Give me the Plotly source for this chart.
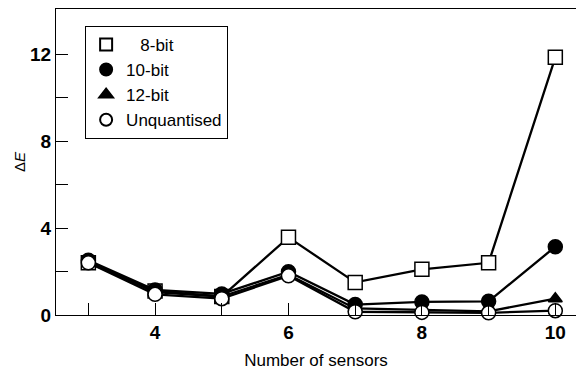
import plotly.graph_objects as go

sensors = [3, 4, 5, 6, 7, 8, 9, 10]
bit8 = [2.4, 1.1, 0.85, 3.57, 1.5, 2.1, 2.4, 11.85]
bit10 = [2.52, 1.15, 0.97, 1.99, 0.48, 0.6, 0.63, 3.14]
bit12 = [2.45, 1.05, 0.85, 1.85, 0.3, 0.22, 0.17, 0.75]
unquant = [2.4, 0.95, 0.75, 1.8, 0.15, 0.12, 0.1, 0.2]

x_tickvals = [3, 4, 5, 6, 7, 8, 9, 10]
x_ticktext = ["", "4", "", "6", "", "8", "", "10"]
y_tickvals = [0, 2, 4, 6, 8, 10, 12]
y_ticktext = ["0", "", "4", "", "8", "", "12"]

FONT = "Liberation Sans, Arial, sans-serif"

series = [
    ("\u2007 8-bit", bit8, dict(symbol="square", color="white", size=14, line=dict(color="black", width=1.5))),
    ("10-bit", bit10, dict(symbol="circle", color="black", size=14, line=dict(color="black", width=1.5))),
    ("12-bit", bit12, dict(symbol="triangle-up", color="black", size=12, line=dict(color="black", width=1.5))),
    ("Unquantised", unquant, dict(symbol="circle", color="white", size=14, line=dict(color="black", width=1.5))),
]

fig = go.Figure()
for name, vals, mk in series:
    fig.add_trace(go.Scatter(x=sensors, y=vals, mode="lines+markers",
                             line=dict(color="black", width=2.3), marker=mk,
                             showlegend=False, cliponaxis=False))
for name, vals, mk in series:
    leg_mk = dict(mk)
    leg_mk["size"] = mk["size"] - 1
    fig.add_trace(go.Scatter(x=[None], y=[None], mode="markers", name=name,
                             marker=leg_mk, showlegend=True))

fig.update_layout(
    width=576, height=370,
    margin=dict(l=56, r=0, t=9, b=55, autoexpand=False),
    paper_bgcolor="white", plot_bgcolor="white",
    font=dict(family=FONT, color="black"),
    showlegend=True,
    legend=dict(x=0.056, y=0.945, xanchor="left", yanchor="top",
                bordercolor="black", borderwidth=1, bgcolor="white",
                font=dict(size=17, family=FONT), itemsizing="constant",
                tracegroupgap=0),
    xaxis=dict(range=[2.515, 10.31], tickvals=x_tickvals, ticktext=x_ticktext,
               ticks="inside", ticklen=12, tickwidth=1, tickcolor="black",
               showline=True, linecolor="black", linewidth=1.2, mirror=True,
               showgrid=False, zeroline=False, automargin=False,
               tickfont=dict(size=19, family=FONT, weight="bold"),
               title=dict(text="Number of sensors", font=dict(size=17, family=FONT), standoff=16)),
    yaxis=dict(range=[0, 14.07], tickvals=y_tickvals, ticktext=y_ticktext,
               ticks="inside", ticklen=12, tickwidth=1, tickcolor="black",
               showline=True, linecolor="black", linewidth=1.2, mirror=False,
               showgrid=False, zeroline=False, automargin=False,
               tickfont=dict(size=19, family=FONT, weight="bold"),
               title=dict(text="Δ<i>E</i>", font=dict(size=15, family=FONT), standoff=0)),
)

fig.write_html("out.html", config={"displayModeBar": False},
               post_script="document.body.style.margin='0';")
